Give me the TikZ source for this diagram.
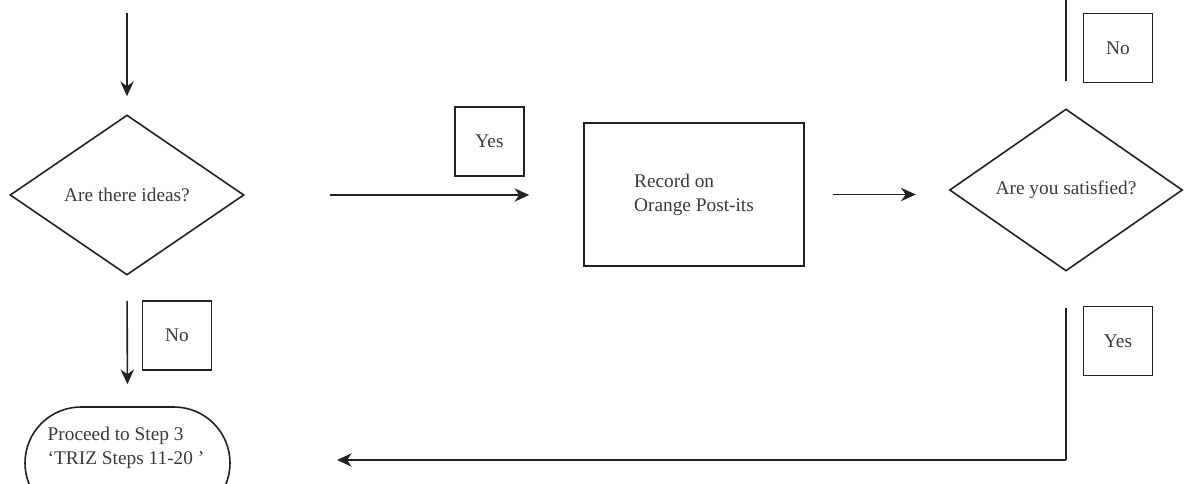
\documentclass[tikz,border=0pt]{standalone}
\usepackage{fontspec}
\setmainfont{Liberation Serif}
\usetikzlibrary{shapes.geometric,arrows.meta}

\definecolor{ink}{HTML}{222222}
\definecolor{txt}{HTML}{3A3A3A}

\tikzset{
  every node/.style={font=\fontsize{14.5}{18}\selectfont, text=txt},
  line/.style={draw=ink, line width=1.2pt},
  arr/.style={line, -{Stealth[length=11pt,width=10pt,inset=3.5pt]}},
  decision/.style={line, diamond, inner sep=0pt, minimum width=#1},
  decision/.default={175.5pt},
  process/.style={line, rectangle, minimum width=165pt, minimum height=107.25pt, align=left},
  answer/.style={line, rectangle, minimum width=52pt, minimum height=52pt, inner sep=0pt},
  terminal/.style={line, rectangle, rounded corners=42pt, minimum width=153.75pt, minimum height=84pt}
}

\begin{document}
\begin{tikzpicture}[x=0.75pt,y=-0.75pt]
  \useasboundingbox (0,0) rectangle (1189,483);
  \clip (0,0) rectangle (1189,483);

  % shapes
  \node[decision, minimum height=120pt] (ideas) at (127,195) {Are there ideas?};
  \node[process] (record) at (694,194.5) {Record on\\Orange Post-its};
  \node[decision=174.75pt, minimum height=121.5pt] (satisfied) at (1066,190) {Are you satisfied?};
  \node[terminal] (proceed) at (127.5,463) {};
  \node[align=left] (proceedtext) at (126,448) {Proceed to Step 3\\`TRIZ Steps 11-20 '};

  % answer labels
  \node[answer] (yesA) at (489.5,141.5) {Yes};
  \node[answer] (noA) at (177,335.5) {No};
  \node[answer] (noB) at (1118,48) {No};
  \node[answer] (yesB) at (1118,341) {Yes};

  % free ends
  \coordinate (entry) at (127,13);
  \coordinate (loopout) at (1066,0);
  \coordinate (back) at (337,460);

  % connectors
  \draw[arr, shorten >=13.5pt] (entry) -- (ideas.north);
  \draw[arr, shorten <=63.75pt, shorten >=40.5pt] (ideas.east) -- (record.west |- ideas.east);
  \draw[arr, shorten <=21pt, shorten >=24.75pt] (record.east) -- (record.east -| satisfied.west);
  \draw[arr, shorten <=18.75pt, shorten >=16.5pt] (ideas.south) -- (proceed.north);
  \draw[line, shorten <=20.25pt] (satisfied.north) -- (loopout);
  \draw[line] ([yshift=-27pt]satisfied.south) -- (satisfied.south |- back);
  \draw[arr] (satisfied.south |- back) -- (back);
\end{tikzpicture}
\end{document}
